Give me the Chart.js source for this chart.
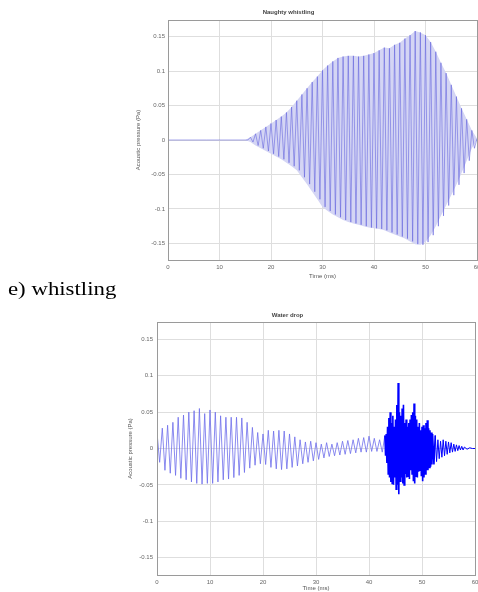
<!DOCTYPE html>
<html>
<head>
<meta charset="utf-8">
<script src="https://cdn.jsdelivr.net/npm/chart.js@4/dist/chart.umd.min.js"></script>
<style>
  html, body { margin:0; padding:0; background:#fff; width:478px; height:592px; overflow:hidden; }
  .box { position:absolute; }
  #label { position:absolute; left:8px; top:278px; font-family:"Liberation Serif","DejaVu Serif",serif; font-size:19px; color:#000; transform:scaleX(1.2); transform-origin:left top; white-space:nowrap; }
</style>
</head>
<body>
<div class="box" style="left:100px;top:0px;width:378px;height:280px;"><canvas id="c1" width="378" height="280"></canvas></div>
<div id="label">e) whistling</div>
<div class="box" style="left:100px;top:300px;width:378px;height:292px;"><canvas id="c2" width="378" height="292"></canvas></div>
<script>
// ---------- data ----------
const xTickValues = [0, 10, 20, 30, 40, 50, 60];
const xTickLabels = ['0', '10', '20', '30', '40', '50', '60'];
const yTickValues = [-0.15, -0.1, -0.05, 0, 0.05, 0.1, 0.15];
const yTickLabels = ['-0.15', '-0.1', '-0.05', '0', '0.05', '0.1', '0.15'];

// Top chart: whistling – positive / negative peak levels (Pa) by time (ms)
const whistleTime = [0, 15, 16, 17, 18, 19, 20, 21, 22, 23, 24, 25, 26, 27, 28, 29, 30, 31, 32, 33, 34, 35, 36, 37, 38, 39, 40, 41, 42, 43, 44, 45, 46, 47, 48, 49, 50, 51, 52, 53, 54, 55, 56, 57, 58, 59, 60];
const whistleUpper = [0, 0.000, 0.004, 0.009, 0.014, 0.019, 0.024, 0.029, 0.034, 0.040, 0.048, 0.057, 0.066, 0.075, 0.084, 0.092, 0.101, 0.108, 0.114, 0.119, 0.121, 0.122, 0.122, 0.121, 0.122, 0.124, 0.126, 0.130, 0.134, 0.133, 0.138, 0.141, 0.147, 0.152, 0.158, 0.156, 0.152, 0.142, 0.128, 0.112, 0.097, 0.080, 0.063, 0.046, 0.030, 0.014, 0.002];
const whistleLower = [0, 0.000, -0.003, -0.008, -0.012, -0.016, -0.020, -0.024, -0.028, -0.033, -0.038, -0.044, -0.054, -0.064, -0.075, -0.086, -0.097, -0.103, -0.108, -0.112, -0.116, -0.119, -0.121, -0.123, -0.125, -0.127, -0.128, -0.129, -0.131, -0.134, -0.137, -0.140, -0.143, -0.147, -0.151, -0.152, -0.148, -0.138, -0.125, -0.110, -0.095, -0.080, -0.065, -0.048, -0.030, -0.012, 0.000];

// Bottom chart: water drop – positive / negative peaks (Pa) by time (ms)
const dropTime = [0, 1, 2, 3, 4, 5, 6, 7, 8, 9, 10, 11, 12, 13, 14, 15, 16, 17, 18, 19, 20, 21, 22, 23, 24, 25, 26, 27, 28, 29, 30, 31, 32, 33, 34, 35, 36, 37, 38, 39, 40, 41, 42, 43,
  43.25, 43.5, 43.75, 44, 44.25, 44.5, 44.75, 45, 45.25, 45.5, 45.75, 46, 46.25, 46.5, 46.75, 47, 47.25, 47.5, 47.75, 48, 48.25, 48.5, 48.75, 49, 49.25, 49.5, 49.75, 50, 50.25, 50.5, 50.75, 51, 51.25, 51.5, 51.75, 52,
  52.5, 53, 53.5, 54, 54.5, 55, 55.5, 56, 56.5, 57, 57.5, 58, 59, 60];
const dropUpper = [0.022, 0.028, 0.032, 0.036, 0.043, 0.046, 0.050, 0.052, 0.055, 0.048, 0.053, 0.050, 0.045, 0.043, 0.043, 0.043, 0.042, 0.036, 0.029, 0.022, 0.020, 0.025, 0.024, 0.025, 0.024, 0.020, 0.016, 0.012, 0.009, 0.010, 0.008, 0.006, 0.008, 0.006, 0.008, 0.010, 0.011, 0.012, 0.014, 0.015, 0.017, 0.014, 0.012, 0.018,
  0.020, 0.030, 0.042, 0.050, 0.035, 0.045, 0.030, 0.040, 0.060, 0.090, 0.050, 0.045, 0.055, 0.060, 0.035, 0.040, 0.030, 0.035, 0.040, 0.046, 0.050, 0.062, 0.045, 0.040, 0.030, 0.035, 0.025, 0.030, 0.032, 0.028, 0.035, 0.039, 0.028, 0.025, 0.022, 0.020,
  0.018, 0.012, 0.010, 0.012, 0.010, 0.009, 0.008, 0.006, 0.005, 0.004, 0.003, 0.002, 0.001, 0.000];
const dropLower = [-0.019, -0.030, -0.034, -0.037, -0.041, -0.043, -0.046, -0.048, -0.049, -0.048, -0.048, -0.046, -0.043, -0.042, -0.040, -0.037, -0.033, -0.027, -0.023, -0.021, -0.022, -0.026, -0.028, -0.029, -0.028, -0.026, -0.024, -0.021, -0.019, -0.017, -0.015, -0.013, -0.011, -0.010, -0.009, -0.008, -0.007, -0.006, -0.005, -0.005, -0.004, -0.004, -0.005, -0.010,
  -0.020, -0.035, -0.040, -0.046, -0.048, -0.050, -0.040, -0.056, -0.050, -0.063, -0.045, -0.040, -0.048, -0.050, -0.035, -0.040, -0.038, -0.042, -0.030, -0.035, -0.045, -0.048, -0.038, -0.040, -0.032, -0.030, -0.038, -0.045, -0.040, -0.035, -0.030, -0.030, -0.026, -0.025, -0.022, -0.022,
  -0.018, -0.014, -0.012, -0.010, -0.008, -0.006, -0.005, -0.004, -0.003, -0.002, -0.002, -0.001, 0.000, 0.000];
const burstStart = 43;
const burstEnd = 52.5;

// ---------- build library tables from the arrays ----------
function peaksToWave(times, upper, lower) {
  const pts = [];
  for (let i = 0; i < times.length; i++) {
    const next = i + 1 < times.length ? times[i + 1] : times[i] + 0.5;
    pts.push({ x: times[i], y: upper[i] });
    pts.push({ x: (times[i] + next) / 2, y: lower[i] });
  }
  return pts;
}
const whistleWave = peaksToWave(whistleTime, whistleUpper, whistleLower);
const whistleTop = whistleTime.map((t, i) => ({ x: t, y: whistleUpper[i] }));
const whistleBottom = whistleTime.map((t, i) => ({ x: t, y: whistleLower[i] }));
const dropWave = peaksToWave(dropTime, dropUpper, dropLower);

const FONT = { family: 'Liberation Sans, Arial, sans-serif', size: 6, lineHeight: 1 };
const TXT = '#666';

const framePlugin = {
  id: 'frame',
  afterDraw(chart) {
    const { ctx, chartArea: a } = chart;
    ctx.save();
    ctx.strokeStyle = '#9a9a9a';
    ctx.lineWidth = 1;
    ctx.strokeRect(Math.round(a.left) + 0.5, Math.round(a.top) + 0.5, Math.round(a.right - a.left), Math.round(a.bottom - a.top));
    ctx.restore();
  }
};

function makeOptions(cfg) {
  return {
    responsive: false,
    animation: false,
    events: [],
    layout: { padding: { left: 0, right: cfg.padRight, top: 0, bottom: 0 } },
    plugins: {
      legend: { display: false },
      tooltip: { enabled: false },
      title: { display: true, text: cfg.title, font: FONT, color: '#444', padding: { top: cfg.titleTop, bottom: cfg.titleBottom } }
    },
    scales: {
      x: {
        type: 'linear', min: 0, max: 60,
        afterBuildTicks: s => { s.ticks = xTickValues.map(v => ({ value: v })); },
        afterFit: s => { s.height = cfg.xHeight; s.paddingLeft = 0; s.paddingRight = 0; },
        grid: { color: '#dedede', drawTicks: false },
        border: { color: '#9a9a9a' },
        ticks: { font: FONT, color: TXT, padding: 4, maxRotation: 0, autoSkip: false,
                 callback: v => xTickLabels[xTickValues.indexOf(v)] },
        title: { display: true, text: 'Time (ms)', font: FONT, color: '#555', padding: { top: 0, bottom: 1 } }
      },
      y: {
        type: 'linear', min: -0.174, max: 0.174,
        afterBuildTicks: s => { s.ticks = yTickValues.map(v => ({ value: v })); },
        afterFit: s => { s.width = cfg.yWidth; s.paddingTop = 0; s.paddingBottom = 0; },
        grid: { color: '#dedede', drawTicks: false },
        border: { color: '#9a9a9a' },
        ticks: { font: FONT, color: TXT, padding: cfg.yTickPad, autoSkip: false,
                 callback: v => { const i = yTickValues.findIndex(t => Math.abs(t - v) < 1e-9); return i >= 0 ? yTickLabels[i] : ''; } },
        title: { display: true, text: 'Acoustic pressure (Pa)', font: FONT, color: '#555', padding: { top: cfg.yTitlePad, bottom: 0 } }
      }
    }
  };
}

new Chart(document.getElementById('c1'), {
  type: 'line',
  data: {
    datasets: [
      { data: whistleWave, order: 0, borderWidth: 1, pointRadius: 0, fill: false, borderColor: 'rgba(95,95,220,0.55)', tension: 0 },
      { data: whistleTop, order: 1, borderWidth: 0, pointRadius: 0, fill: '+1', backgroundColor: 'rgb(212,213,244)', borderColor: 'rgba(0,0,0,0)' },
      { data: whistleBottom, order: 2, borderWidth: 0, pointRadius: 0, fill: false, borderColor: 'rgba(0,0,0,0)' }
    ]
  },
  options: makeOptions({ title: 'Naughty whistling', titleTop: 9, titleBottom: 5, xHeight: 20, yWidth: 68, padRight: 1, yTickPad: 3, yTitlePad: 35 }),
  plugins: [framePlugin]
});

const calmColor = 'rgba(110,110,235,0.8)';
new Chart(document.getElementById('c2'), {
  type: 'line',
  data: {
    datasets: [
      { data: dropWave, borderWidth: 1, pointRadius: 0, fill: false, tension: 0,
        borderColor: calmColor,
        segment: {
          borderColor: c => (c.p0.parsed.x >= burstStart ? 'rgb(0,0,255)' : calmColor),
          borderWidth: c => (c.p0.parsed.x >= burstStart && c.p0.parsed.x < burstEnd ? 1.6 : 1)
        } }
    ]
  },
  options: makeOptions({ title: 'Water drop', titleTop: 12, titleBottom: 4, xHeight: 17, yWidth: 57, padRight: 3, yTickPad: 4, yTitlePad: 27 }),
  plugins: [framePlugin]
});
</script>
</body>
</html>
